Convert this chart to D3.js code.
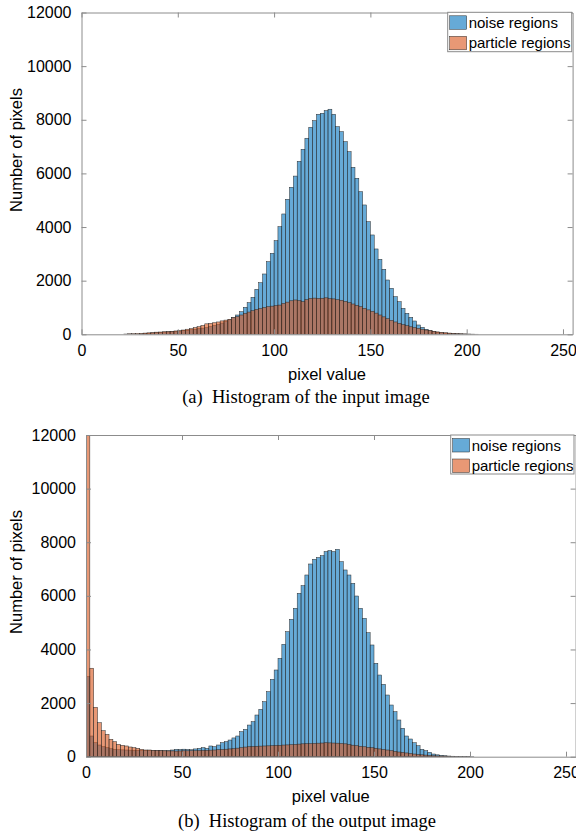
<!DOCTYPE html>
<html>
<head>
<meta charset="utf-8">
<script src="https://cdn.jsdelivr.net/npm/d3@7"></script>
<style>
  html, body { margin: 0; padding: 0; background: #fff; }
  svg { display: block; }
</style>
</head>
<body>
<svg id="chart" width="576" height="834"></svg>
<script>
// ---------- DATA ----------
// bins of width 2 over pixel values [0,256): bin i covers [2i, 2i+2)
const binWidth = 2;
const xTicks = [0, 50, 100, 150, 200, 250];
const yTicks = [0, 2000, 4000, 6000, 8000, 10000, 12000];
const seriesNames = ["noise regions", "particle regions"];

// (a) input image
const inputNoise = [
  0,0,0,0,0,0,0,0,0,0,0,0,0,0,0,
  10,20,30,50,60,70,80,90,100,110,120,140,150,170,190,210,230,250,290,330,370,420,480,540,620,720,
  843,1007,1180,1380,1678,1925,2249,2708,3021,3491,4013,4487,5035,5483,5900,6450,6900,7311,7721,7967,
  8206,8243,8340,8393,8206,7744,7557,7184,6811,6229,5819,5319,4823,4200,3704,3182,2797,2425,2025,1716,
  1403,1216,970,783,634,496,347,261,186,134,100,75,55,40,30,20,15,10,6,4,2,
  0,0,0,0,0,0,0,0,0,0,0,0,0,0,0,0,0,0,0,0,0,0,0,0,0,0
];
const inputParticle = [
  0,0,0,0,0,0,0,0,0,0,0,
  10,20,25,30,35,45,55,65,80,85,95,100,110,125,135,160,190,210,250,283,330,390,410,430,460,500,530,560,620,660,
  720,780,830,880,930,960,1000,1030,1050,1070,1090,1150,1200,1250,1280,1260,1220,1290,1340,1350,
  1340,1345,1360,1330,1320,1290,1270,1230,1180,1130,1080,1030,970,910,860,790,720,650,580,520,
  460,410,360,320,280,250,224,190,160,134,110,90,75,60,45,35,25,20,15,10,6,3,
  0,0,0,0,0,0,0,0,0,0,0,0,0,0,0,0,0,0,0,0,0,0,0,0,0
];

// (b) output image
const outputNoise = [
  2984,772,522,436,373,336,298,276,260,255,250,245,240,240,235,235,230,230,225,225,
  220,230,250,276,270,280,270,260,290,313,336,313,400,373,436,522,560,622,700,772,
  933,1020,1181,1306,1555,1767,2052,2425,2886,3234,3670,4192,4663,5125,5535,6095,6380,6778,7188,7364,
  7430,7500,7650,7688,7650,7737,7275,6965,6778,6468,5994,5535,5162,4625,4167,3484,3047,2700,2301,1928,
  1678,1369,1059,772,660,522,410,276,224,162,100,70,50,35,25,18,12,8,5,3,2,
  0,0,0,0,0,0,0,0,0,0,0,0,0,0,0,0,0,0,0,0,0,0,0,0,0,0,0
];
const outputParticle = [
  12500,3300,1842,1268,970,835,649,560,462,425,400,362,336,313,276,250,250,236,230,225,
  220,215,215,210,215,220,220,225,225,230,235,240,245,250,260,270,280,290,300,320,
  340,360,373,380,390,395,400,405,410,420,425,435,440,450,460,470,480,485,490,500,
  505,510,520,515,510,505,495,480,460,430,410,390,370,350,335,315,290,270,250,225,
  200,175,160,140,120,100,85,70,60,50,40,30,25,20,15,10,8,5,3,2,
  0,0,0,0,0,0,0,0,0,0,0,0,0,0,0,0,0,0,0,0,0,0,0,0,0,0,0,0
];

// ---------- DRAW ----------
const svg = d3.select("#chart");
const blueFill = "rgb(0,114,189)";
const orangeFill = "rgb(217,83,25)";
const faceAlpha = 0.6;
const axisColor = "#8c8c8c";

function panel(cfg) {
  const g = svg.append("g");
  const x = d3.scaleLinear().domain([0, 255]).range([cfg.left, cfg.right]);
  const y = d3.scaleLinear().domain([0, 12000]).range([cfg.bottom, cfg.top]);
  const clipId = "clip" + cfg.id;
  svg.append("clipPath").attr("id", clipId)
    .append("rect").attr("x", cfg.left).attr("y", cfg.top)
    .attr("width", cfg.right - cfg.left).attr("height", cfg.bottom - cfg.top);

  const bars = g.append("g").attr("clip-path", `url(#${clipId})`);
  [[cfg.noise, blueFill], [cfg.particle, orangeFill]].forEach(([arr, col]) => {
    const data = arr.map((v, i) => ({x0: i * binWidth, x1: (i + 1) * binWidth, v}))
      .filter(d => d.v > 0);
    bars.append("g").selectAll("rect").data(data).join("rect")
      .attr("x", d => x(d.x0))
      .attr("width", d => x(d.x1) - x(d.x0))
      .attr("y", d => y(d.v))
      .attr("height", d => y(0) - y(d.v))
      .attr("fill", col)
      .attr("fill-opacity", faceAlpha)
      .attr("stroke", "#2a2a2a")
      .attr("stroke-width", 0.5);
  });

  // axes (MATLAB-like box with inward ticks)
  const tl = 5;
  const xAxisB = d3.axisBottom(x).tickValues(xTicks).tickSizeInner(-tl).tickSizeOuter(0).tickPadding(10);
  const xAxisT = d3.axisTop(x).tickValues(xTicks).tickSizeInner(-tl).tickSizeOuter(0).tickFormat("");
  const yAxisL = d3.axisLeft(y).tickValues(yTicks).tickSizeInner(-tl).tickSizeOuter(0).tickPadding(10).tickFormat(d3.format("d"));
  const yAxisR = d3.axisRight(y).tickValues(yTicks).tickSizeInner(-tl).tickSizeOuter(0).tickFormat("");

  const styleAxis = (sel) => {
    sel.selectAll("path.domain").attr("stroke", axisColor).attr("stroke-width", 1);
    sel.selectAll(".tick line").attr("stroke", axisColor).attr("stroke-width", 1);
    sel.selectAll(".tick text").attr("fill", "#000")
      .style("font-family", "'Liberation Sans', Arial, sans-serif").style("font-size", "16px");
  };
  g.append("g").attr("transform", `translate(0,${cfg.bottom})`).call(xAxisB).call(styleAxis)
    .selectAll(".tick text").attr("dy", "0.71em");
  g.append("g").attr("transform", `translate(0,${cfg.top})`).call(xAxisT).call(styleAxis);
  g.append("g").attr("transform", `translate(${cfg.left},0)`).call(yAxisL).call(styleAxis);
  g.append("g").attr("transform", `translate(${cfg.right},0)`).call(yAxisR).call(styleAxis);

  // axis labels
  g.append("text").attr("x", (cfg.left + cfg.right) / 2).attr("y", cfg.xLabelY)
    .attr("text-anchor", "middle")
    .style("font-family", "'Liberation Sans', Arial, sans-serif").style("font-size", "16.5px")
    .text("pixel value");
  g.append("text")
    .attr("transform", `translate(${cfg.yLabelX},${cfg.yLabelY}) rotate(-90)`)
    .attr("text-anchor", "middle")
    .style("font-family", "'Liberation Sans', Arial, sans-serif").style("font-size", "16.5px")
    .text("Number of pixels");

  // legend
  const lg = g.append("g");
  lg.append("rect").attr("x", cfg.leg.x).attr("y", cfg.leg.y)
    .attr("width", cfg.leg.w).attr("height", cfg.leg.h)
    .attr("fill", "#fff").attr("stroke", "#8a8a8a").attr("stroke-width", 1);
  [blueFill, orangeFill].forEach((col, i) => {
    const yy = cfg.leg.y + 3.5 + i * 20.5;
    lg.append("rect").attr("x", cfg.leg.x + 2).attr("y", yy)
      .attr("width", 17).attr("height", 13.5)
      .attr("fill", col).attr("fill-opacity", faceAlpha)
      .attr("stroke", "#2a2a2a").attr("stroke-width", 0.5);
    lg.append("text").attr("x", cfg.leg.x + 21).attr("y", yy + 12)
      .style("font-family", "'Liberation Sans', Arial, sans-serif").style("font-size", "15px")
      .text(seriesNames[i]);
  });

  // caption
  svg.append("text").attr("x", cfg.capX).attr("y", cfg.capY)
    .attr("text-anchor", "middle")
    .style("font-family", "'Liberation Serif', 'Times New Roman', serif").style("font-size", "18.5px")
    .text(cfg.caption);
}

panel({
  id: "a", left: 81.5, right: 572.6, top: 12.5, bottom: 334.3,
  noise: inputNoise, particle: inputParticle,
  xLabelY: 380, yLabelX: 22, yLabelY: 150,
  leg: {x: 447.7, y: 12.3, w: 124, h: 39.4},
  capX: 306, capY: 403, caption: "(a)\u2002Histogram of the input image"
});
panel({
  id: "b", left: 86, right: 575.6, top: 435, bottom: 756.7,
  noise: outputNoise, particle: outputParticle,
  xLabelY: 802, yLabelX: 22, yLabelY: 572,
  leg: {x: 450.7, y: 435, w: 123.3, h: 39},
  capX: 307, capY: 827, caption: "(b)\u2002Histogram of the output image"
});
</script>
</body>
</html>
